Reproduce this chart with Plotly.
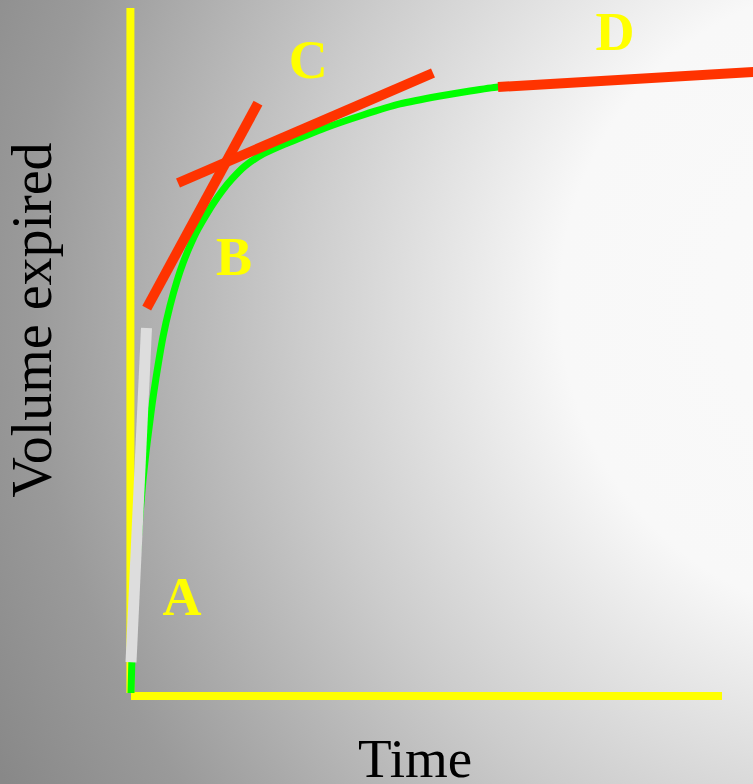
import base64
import plotly.graph_objects as go

# ---- data (arbitrary units: time on x, volume on y) ----
curve_time = [0, 0.017, 0.051, 0.102, 0.152, 0.203, 0.254, 0.305, 0.355, 0.423, 0.541,
              0.660, 0.778, 0.880, 0.998, 1.117, 1.252, 1.387, 1.540, 1.709, 1.929,
              2.234, 2.606, 2.860, 3.283, 3.926, 4.552, 5.228, 5.736, 6.210, 6.751]
curve_volume = [0, 0.555, 1.212, 1.942, 2.599, 3.109, 3.518, 3.869, 4.204, 4.599, 5.197,
                5.650, 6.015, 6.277, 6.526, 6.745, 6.949, 7.139, 7.328, 7.504, 7.693,
                7.869, 8.015, 8.102, 8.248, 8.438, 8.599, 8.715, 8.788, 8.847, 8.876]

tangent_a_time = [0.0, 0.262]
tangent_a_volume = [0.45, 5.33]
tangent_b_time = [0.266, 2.149]
tangent_b_volume = [5.62, 8.61]
tangent_c_time = [0.795, 5.110]
tangent_c_volume = [7.445, 9.051]
tangent_d_time = [6.210, 10.53]
tangent_d_volume = [8.847, 9.066]

axis_y_time = [-0.01, -0.01]
axis_y_volume = [0, 10.0]
axis_x_time = [0, 10.0]
axis_x_volume = [-0.045, -0.045]

label_text = ["A", "B", "C", "D"]
label_time = [0.863, 1.743, 3.00, 8.19]
label_volume = [1.343, 6.30, 9.18, 9.585]

x_title = "Time"
y_title = "Volume expired"

# ---- background gradient (style only) ----
svg = (
    '<svg xmlns="http://www.w3.org/2000/svg" width="753" height="784" '
    'viewBox="0 0 753 784" preserveAspectRatio="none">'
    '<defs><radialGradient id="g" gradientUnits="userSpaceOnUse" cx="880" cy="300" r="1000">'
    '<stop offset="0" stop-color="#fafafa"/>'
    '<stop offset="0.32" stop-color="#f8f8f8"/>'
    '<stop offset="0.58" stop-color="#cccccc"/>'
    '<stop offset="0.85" stop-color="#9a9a9a"/>'
    '<stop offset="1" stop-color="#888888"/>'
    '</radialGradient></defs>'
    '<rect x="0" y="0" width="753" height="784" fill="url(#g)"/></svg>'
)
bg_src = "data:image/svg+xml;base64," + base64.b64encode(svg.encode()).decode()

fig = go.Figure()

fig.add_trace(go.Scatter(x=axis_y_time, y=axis_y_volume, mode="lines",
                         line=dict(color="#ffff00", width=8), hoverinfo="skip"))
fig.add_trace(go.Scatter(x=axis_x_time, y=axis_x_volume, mode="lines",
                         line=dict(color="#ffff00", width=8), hoverinfo="skip"))
fig.add_trace(go.Scatter(x=curve_time, y=curve_volume, mode="lines",
                         line=dict(color="#00ff00", width=7, shape="spline", smoothing=0.5),
                         hoverinfo="skip"))
fig.add_trace(go.Scatter(x=tangent_a_time, y=tangent_a_volume, mode="lines",
                         line=dict(color="#dddddd", width=11), hoverinfo="skip"))
for tx, ty in [(tangent_b_time, tangent_b_volume), (tangent_c_time, tangent_c_volume),
               (tangent_d_time, tangent_d_volume)]:
    fig.add_trace(go.Scatter(x=tx, y=ty, mode="lines",
                             line=dict(color="#ff3300", width=10), hoverinfo="skip"))

fig.add_trace(go.Scatter(x=label_time, y=label_volume, mode="text", text=label_text,
                         textposition="middle center",
                         textfont=dict(family="Liberation Serif", size=54, color="#ffff00",
                                       weight="bold"),
                         hoverinfo="skip"))

fig.add_annotation(x=4.805, y=-0.949, xref="x", yref="y", text=x_title, showarrow=False,
                   font=dict(family="Liberation Serif", size=55, color="#000000"),
                   xanchor="center", yanchor="middle")
fig.add_annotation(x=-1.667, y=5.445, xref="x", yref="y", text=y_title, showarrow=False,
                   textangle=-90,
                   font=dict(family="Liberation Serif", size=56, color="#000000"),
                   xanchor="center", yanchor="middle")

fig.add_layout_image(dict(source=bg_src, xref="paper", yref="paper", x=0, y=1,
                          sizex=1, sizey=1, sizing="stretch", layer="below",
                          xanchor="left", yanchor="top"))

fig.update_layout(
    width=753, height=784,
    margin=dict(l=0, r=0, t=0, b=0),
    paper_bgcolor="#c0c0c0",
    plot_bgcolor="rgba(0,0,0,0)",
    showlegend=False,
    xaxis=dict(range=[-2.2166, 10.5245], visible=False, fixedrange=True),
    yaxis=dict(range=[-1.3285, 10.1168], visible=False, fixedrange=True),
)

fig.write_html("out.html", config={"displayModeBar": False},
               post_script="document.body.style.margin='0';document.body.style.overflow='hidden';")
